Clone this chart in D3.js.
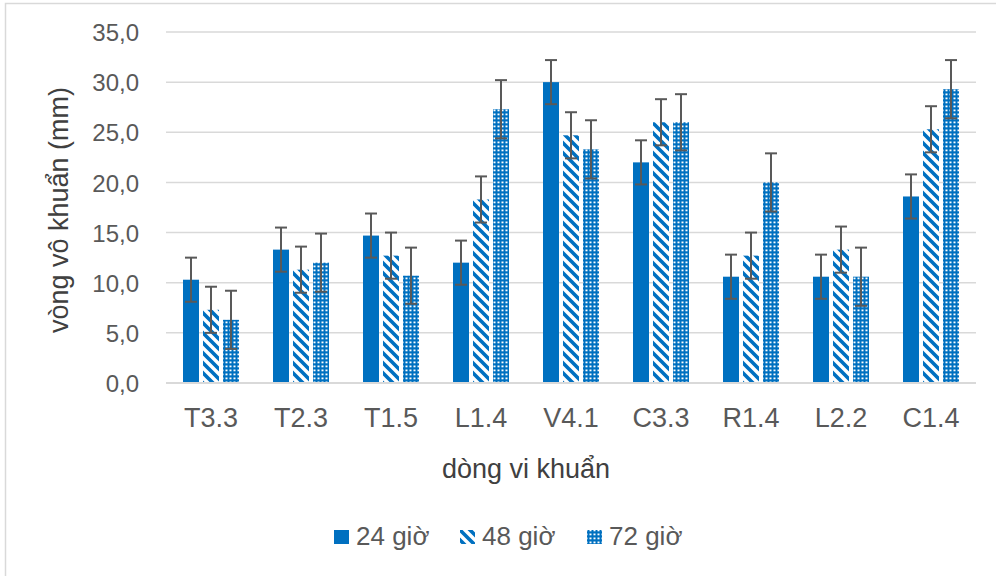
<!DOCTYPE html>
<html lang="vi">
<head>
<meta charset="UTF-8">
<title>vòng vô khuẩn</title>
<script src="https://cdn.jsdelivr.net/npm/d3@7"></script>
<style>
  body{margin:0;background:#fff}
  text{font-family:"Liberation Sans",Arial,sans-serif}
</style>
</head>
<body>
<div id="chart"></div>
<script>
// data
const categories=["T3.3","T2.3","T1.5","L1.4","V4.1","C3.3","R1.4","L2.2","C1.4"]
const seriesNames=["24 giờ","48 giờ","72 giờ"]
const v24=[10.3,13.3,14.7,12.0,30.0,22.0,10.6,10.6,18.6]
const v48=[7.3,11.3,12.7,18.3,24.7,26.0,12.7,13.3,25.3]
const v72=[6.3,12.0,10.7,27.3,23.3,26.0,20.0,10.6,29.3]
const e24=[2.2,2.2,2.2,2.2,2.2,2.2,2.2,2.2,2.2]
const e48=[2.3,2.3,2.3,2.3,2.3,2.3,2.3,2.3,2.3]
const e72=[2.9,2.9,2.8,2.9,2.9,2.8,2.9,2.9,2.9]
const yTicks=[0,5,10,15,20,25,30,35]

const values=[v24,v48,v72]
const errors=[e24,e48,e72]
const blue="#0070c0"

const W=996,H=576
const svg=d3.select('#chart').append('svg').attr('width',W).attr('height',H)

// patterns
const defs=svg.append('defs')
const p48=defs.append('pattern').attr('id','p48').attr('patternUnits','userSpaceOnUse')
  .attr('width',10).attr('height',10)
p48.append('rect').attr('width',10).attr('height',10).attr('fill','#fff')
p48.append('path').attr('d','M-3,-3L13,13M-3,7L3,13M7,-3L13,3')
  .attr('stroke',blue).attr('stroke-width',3.6)
const p72=defs.append('pattern').attr('id','p72').attr('patternUnits','userSpaceOnUse')
  .attr('width',4).attr('height',4)
p72.append('rect').attr('width',4).attr('height',4).attr('fill',blue)
p72.append('rect').attr('x',1.5).attr('y',1.5).attr('width',2).attr('height',1.8).attr('fill','#fff')
const fills=[blue,'url(#p48)','url(#p72)']

// chart border
svg.append('rect').attr('x',5.5).attr('y',3.5).attr('width',W+20).attr('height',H+20)
  .attr('fill','none').attr('stroke','#d9d9d9').attr('stroke-width',1.5)

const x0=166,x1=976,yTop=32,yBot=383
const xScale=d3.scaleBand().domain(categories).range([x0,x1])
const yScale=d3.scaleLinear().domain([0,35]).range([yBot,yTop])
const barW=16,gap=4
const groupW=3*barW+2*gap

// grid
svg.append('g').selectAll('line').data(yTicks.filter(d=>d>0)).join('line')
  .attr('x1',x0).attr('x2',x1).attr('y1',d=>yScale(d)).attr('y2',d=>yScale(d))
  .attr('stroke','#d9d9d9').attr('stroke-width',1.5)

// y axis
const yAxis=d3.axisLeft(yScale).tickValues(yTicks).tickSize(0).tickPadding(0)
  .tickFormat(d=>d3.format('.1f')(d).replace('.',','))
const gy=svg.append('g').attr('transform','translate(139,0)').call(yAxis)
gy.select('.domain').remove()
gy.selectAll('text').attr('fill','#595959').attr('font-size',24)
  .attr('font-family','"Open Sans","Noto Sans",sans-serif').attr('dy','0.36em')

// bars
seriesNames.forEach((s,si)=>{
  const g=svg.append('g')
  const data=categories.map((c,i)=>({c,v:values[si][i],e:errors[si][i]}))
  const bx=d=>xScale(d.c)+xScale.bandwidth()/2-groupW/2+si*(barW+gap)
  g.selectAll('rect').data(data).join('rect')
    .attr('x',bx).attr('width',barW)
    .attr('y',d=>yScale(d.v)).attr('height',d=>yBot-yScale(d.v))
    .attr('fill',fills[si])
  // error bars
  const eb=g.selectAll('g.err').data(data).join('g').attr('class','err')
    .attr('stroke','#595959').attr('stroke-width',2)
  eb.append('line').attr('x1',d=>bx(d)+barW/2).attr('x2',d=>bx(d)+barW/2)
    .attr('y1',d=>yScale(d.v+d.e)).attr('y2',d=>yScale(d.v-d.e))
  eb.append('line').attr('x1',d=>bx(d)+barW/2-6).attr('x2',d=>bx(d)+barW/2+6)
    .attr('y1',d=>yScale(d.v+d.e)).attr('y2',d=>yScale(d.v+d.e))
  eb.append('line').attr('x1',d=>bx(d)+barW/2-6).attr('x2',d=>bx(d)+barW/2+6)
    .attr('y1',d=>yScale(d.v-d.e)).attr('y2',d=>yScale(d.v-d.e))
})

// x axis
svg.append('line').attr('x1',x0).attr('x2',x1).attr('y1',yBot).attr('y2',yBot)
  .attr('stroke','#d9d9d9').attr('stroke-width',2)
const xAxis=d3.axisBottom(xScale).tickSize(0).tickPadding(0)
const gx=svg.append('g').attr('transform','translate(0,408)').call(xAxis)
gx.select('.domain').remove()
gx.selectAll('text').attr('fill','#595959').attr('font-size',27)
  .attr('font-family','"Liberation Sans",Arial,sans-serif')

// axis titles
svg.append('text').attr('x',526).attr('y',478).attr('text-anchor','middle')
  .attr('font-family','"Open Sans","Noto Sans",sans-serif')
  .attr('font-size',27).attr('fill','#404040').text('dòng vi khuẩn')
svg.append('text').attr('transform','translate(68,210) rotate(-90)').attr('text-anchor','middle')
  .attr('font-family','"Open Sans","Noto Sans",sans-serif')
  .attr('font-size',27).attr('fill','#404040').text('vòng vô khuẩn (mm)')

// legend
const legX=[334,460,587]
const lg=svg.append('g')
seriesNames.forEach((s,i)=>{
  lg.append('rect').attr('x',legX[i]).attr('y',530).attr('width',15).attr('height',14)
    .attr('fill',fills[i])
  lg.append('text').attr('x',legX[i]+22).attr('y',545).attr('font-size',26)
    .attr('fill','#595959').text(s)
})
</script>
</body>
</html>
